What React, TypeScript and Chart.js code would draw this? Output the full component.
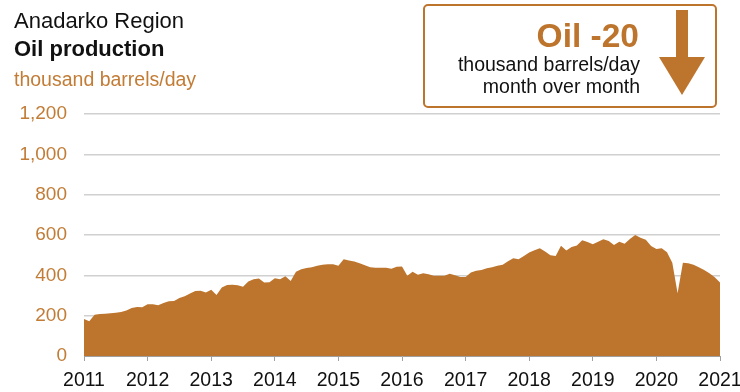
import React, { useEffect, useRef } from 'react';
import { Chart, registerables } from 'chart.js';

Chart.register(...registerables);

const YEARS = ['2011', '2012', '2013', '2014', '2015', '2016', '2017', '2018', '2019', '2020', '2021'];

// Monthly oil production, thousand barrels/day, Jan 2011 .. Jan 2021
const OIL = [
  184, 172, 205, 208, 210, 212, 214, 218, 226, 238, 243, 242,
  256, 257, 252, 263, 271, 273, 287, 296, 310, 322, 323, 315,
  328, 303, 340, 352, 353, 351, 344, 370, 380, 384, 364, 366,
  386, 381, 396, 372, 418, 430, 436, 440, 448, 452, 455, 455,
  448, 480, 474, 468, 460, 450, 440, 438, 438, 438, 433, 443,
  444, 398, 418, 403, 410, 405, 398, 398, 398, 408, 400, 392,
  392, 414, 423, 427, 435, 440, 447, 452, 470, 485, 480, 496,
  513, 525, 534, 518, 500, 496, 547, 523, 540, 548, 574, 565,
  554, 566, 579, 570, 551, 567, 556, 580, 600, 586, 576, 545,
  530, 534, 515, 462, 311, 463, 460, 452, 440, 426, 410, 390,
  365,
];

const Y_MIN = 0;
const Y_MAX = 1200;
const Y_STEP = 200;

const TITLE = 'Anadarko Region';
const SUBTITLE = 'Oil production';
const UNIT = 'thousand barrels/day';
const CHANGE_LABEL = 'Oil -20';
const CHANGE_LINES = ['thousand barrels/day', 'month over month'];

const ORANGE = '#BD742C';
const TEXT_ORANGE = '#C27C36';
const FONT = "'Liberation Sans', Arial, sans-serif";

const overlayPlugin = {
  id: 'overlay',
  afterDraw(chart: any) {
    const ctx = chart.ctx as CanvasRenderingContext2D;
    ctx.save();
    ctx.textBaseline = 'alphabetic';
    ctx.textAlign = 'left';
    ctx.fillStyle = '#111';
    ctx.font = `22px ${FONT}`;
    ctx.fillText(TITLE, 14, 28);
    ctx.font = `bold 22px ${FONT}`;
    ctx.fillText(SUBTITLE, 14, 56);
    ctx.fillStyle = TEXT_ORANGE;
    ctx.font = `19.5px ${FONT}`;
    ctx.fillText(UNIT, 14, 86);

    // box
    ctx.strokeStyle = ORANGE;
    ctx.lineWidth = 2;
    ctx.beginPath();
    (ctx as any).roundRect(424, 5, 292, 102, 4);
    ctx.stroke();

    ctx.textAlign = 'right';
    ctx.fillStyle = ORANGE;
    ctx.font = `bold 33.5px ${FONT}`;
    ctx.fillText(CHANGE_LABEL, 639, 47);
    ctx.fillStyle = '#111';
    ctx.font = `19.5px ${FONT}`;
    ctx.fillText(CHANGE_LINES[0], 640, 71);
    ctx.fillText(CHANGE_LINES[1], 640, 93);

    // arrow
    ctx.fillStyle = ORANGE;
    ctx.fillRect(676, 10, 12, 48);
    ctx.beginPath();
    ctx.moveTo(659, 57);
    ctx.lineTo(705, 57);
    ctx.lineTo(682, 95);
    ctx.closePath();
    ctx.fill();
    ctx.restore();
  },
};

export default function App() {
  const ref = useRef<HTMLCanvasElement | null>(null);

  useEffect(() => {
    if (!ref.current) return;
    const chart = new Chart(ref.current, {
      type: 'line',
      data: {
        datasets: [
          {
            data: OIL.map((v, i) => ({ x: i, y: v })),
            fill: 'origin',
            backgroundColor: ORANGE,
            borderColor: ORANGE,
            borderWidth: 0,
            pointRadius: 0,
            tension: 0,
          },
        ],
      },
      options: {
        animation: false,
        responsive: false,
        layout: { padding: { top: 114, right: 20, left: 0, bottom: 0 } },
        plugins: { legend: { display: false }, tooltip: { enabled: false } },
        scales: {
          x: {
            type: 'linear',
            min: 0,
            max: (YEARS.length - 1) * 12,
            afterFit: (s: any) => {
              s.height = 36;
              s.paddingLeft = 0;
              s.paddingRight = 0;
            },
            afterBuildTicks: (s: any) => {
              s.ticks = YEARS.map((_, i) => ({ value: i * 12 }));
            },
            ticks: {
              autoSkip: false,
              maxRotation: 0,
              padding: 8,
              color: '#111',
              font: { family: FONT, size: 19.5 },
              callback: (v: any) => YEARS[Math.round(Number(v) / 12)],
            },
            grid: { drawOnChartArea: false, drawTicks: true, tickLength: 5, color: '#a0a0a0' },
            border: { display: true, color: '#a0a0a0', width: 1 },
          },
          y: {
            min: Y_MIN,
            max: Y_MAX,
            afterFit: (s: any) => {
              s.width = 84;
              s.paddingTop = 0;
              s.paddingBottom = 0;
            },
            ticks: {
              stepSize: Y_STEP,
              padding: 17,
              color: TEXT_ORANGE,
              font: { family: FONT, size: 19 },
              callback: (v: any) => Number(v).toLocaleString('en-US'),
            },
            grid: { drawTicks: false, color: '#d0d0d0', lineWidth: 1.5 },
            border: { display: false },
          },
        },
      },
      plugins: [overlayPlugin],
    });
    return () => chart.destroy();
  }, []);

  return (
    <div style={{ position: 'absolute', left: 0, top: 0, width: 740, height: 392, background: '#fff' }}>
      <canvas ref={ref} width={740} height={392} style={{ width: 740, height: 392, display: 'block' }} />
    </div>
  );
}
